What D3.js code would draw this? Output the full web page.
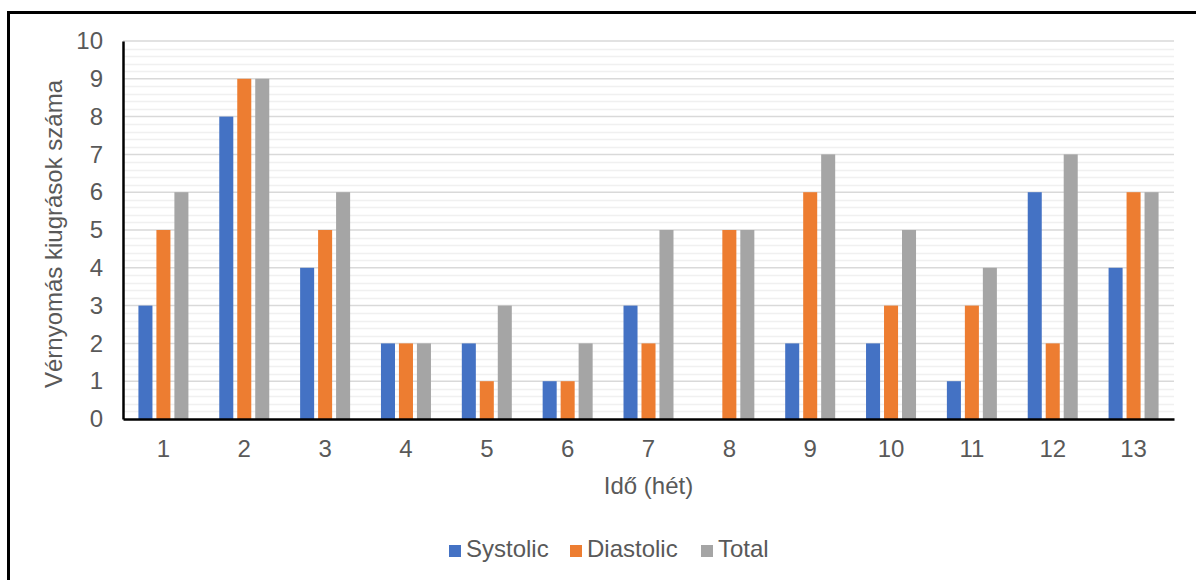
<!DOCTYPE html>
<html>
<head>
<meta charset="utf-8">
<script src="https://cdn.jsdelivr.net/npm/d3@7"></script>
<style>
  body { margin: 0; background: #fff; }
  svg { display: block; font-family: "Liberation Sans", Arial, sans-serif; }
</style>
</head>
<body>
<svg id="chart" width="1196" height="580"></svg>
<script>
// Weekly counts of blood-pressure spikes
const weeks = ["1","2","3","4","5","6","7","8","9","10","11","12","13"];
const systolic  = [3, 8, 4, 2, 2, 1, 3, 0, 2, 2, 1, 6, 4];
const diastolic = [5, 9, 5, 2, 1, 1, 2, 5, 6, 3, 3, 2, 6];
const total     = [6, 9, 6, 2, 3, 2, 5, 5, 7, 5, 4, 7, 6];
const seriesNames = ["Systolic", "Diastolic", "Total"];
const seriesColors = ["#4472C4", "#ED7D31", "#A5A5A5"];
const yTicks = [0,1,2,3,4,5,6,7,8,9,10];

const series = [systolic, diastolic, total];
const svg = d3.select("#chart");
const textColor = "#595959";
const fontSize = 24;

const plotLeft = 123, plotRight = 1174, plotTop = 41, plotBottom = 419;

const x = d3.scaleBand().domain(weeks).range([plotLeft, plotRight]);
const y = d3.scaleLinear().domain([0, 10]).range([plotBottom, plotTop]);
const inner = d3.scaleBand().domain(seriesNames).range([-25, 25]).paddingInner(0.22);

// outer frame
svg.append("rect")
  .attr("x", 8.5).attr("y", 12.5).attr("width", 1200).attr("height", 600)
  .attr("fill", "none").attr("stroke", "#000").attr("stroke-width", 3);

// minor gridlines every 0.2
const minor = d3.range(0, 10.001, 0.2).filter(v => Math.abs(v - Math.round(v)) > 1e-6);
svg.append("g").selectAll("line").data(minor).join("line")
  .attr("x1", plotLeft).attr("x2", plotRight)
  .attr("y1", d => Math.round(y(d)) + 0.5).attr("y2", d => Math.round(y(d)) + 0.5)
  .attr("stroke", "#f0f0f0").attr("stroke-width", 1.5);

// major gridlines
svg.append("g").selectAll("line").data(yTicks.filter(d => d > 0)).join("line")
  .attr("x1", plotLeft).attr("x2", plotRight)
  .attr("y1", d => y(d)).attr("y2", d => y(d))
  .attr("stroke", "#d9d9d9").attr("stroke-width", 1.5);

// bars
seriesNames.forEach((name, si) => {
  svg.append("g").selectAll("rect").data(series[si]).join("rect")
    .attr("x", (d, i) => x(weeks[i]) + x.bandwidth() / 2 + inner(name))
    .attr("width", inner.bandwidth())
    .attr("y", d => y(d))
    .attr("height", d => y(0) - y(d))
    .attr("fill", seriesColors[si]);
});

// y axis
const yAxis = svg.append("g")
  .attr("transform", `translate(${plotLeft},0)`)
  .call(d3.axisLeft(y).tickValues(yTicks).tickSize(0).tickPadding(20).tickFormat(d3.format("d")));
yAxis.select(".domain").attr("stroke", "#000").attr("stroke-width", 2.5);
yAxis.selectAll("text").attr("fill", textColor).attr("font-size", fontSize)
  .attr("font-family", "Liberation Sans, Arial, sans-serif");

// x axis
const xAxis = svg.append("g")
  .attr("transform", `translate(0,${plotBottom})`)
  .call(d3.axisBottom(x).tickSize(0).tickPadding(21));
xAxis.select(".domain").attr("stroke", "#000").attr("stroke-width", 2.5);
xAxis.selectAll("text").attr("fill", textColor).attr("font-size", fontSize)
  .attr("font-family", "Liberation Sans, Arial, sans-serif");

// axis titles
svg.append("text")
  .attr("transform", `translate(62,234) rotate(-90)`)
  .attr("text-anchor", "middle")
  .attr("fill", textColor).attr("font-size", fontSize)
  .text("Vérnyomás kiugrások száma");

svg.append("text")
  .attr("x", (plotLeft + plotRight) / 2).attr("y", 494)
  .attr("text-anchor", "middle")
  .attr("fill", textColor).attr("font-size", fontSize)
  .text("Idő (hét)");

// legend
const legendX = [449, 570, 701];
const legend = svg.append("g");
seriesNames.forEach((name, i) => {
  legend.append("rect")
    .attr("x", legendX[i]).attr("y", 545).attr("width", 12).attr("height", 12)
    .attr("fill", seriesColors[i]);
  legend.append("text")
    .attr("x", legendX[i] + 17).attr("y", 557)
    .attr("fill", textColor).attr("font-size", fontSize)
    .text(name);
});
</script>
</body>
</html>
